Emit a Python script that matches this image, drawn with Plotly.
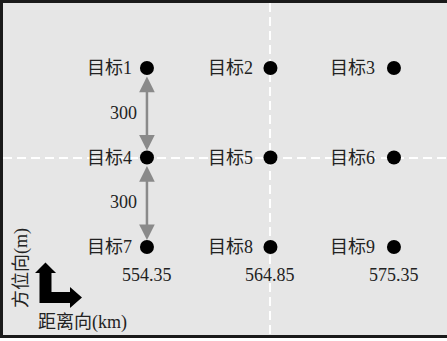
import plotly.graph_objects as go

# Target grid: range positions (km) and azimuth offsets (m)
range_km = [554.35, 564.85, 575.35]
azimuth_m = [300, 0, -300]
range_labels = ["554.35", "564.85", "575.35"]
target_names = [["目标1", "目标2", "目标3"],
                ["目标4", "目标5", "目标6"],
                ["目标7", "目标8", "目标9"]]
spacing_labels = ["300", "300"]

W, H = 447, 341
ML, MR, MT, MB = 3, 0, 3, 6
PW, PH = W - ML - MR, H - MT - MB

FONT = "Liberation Serif, Noto Sans CJK SC, serif"
TXT = "#222222"


def px(x, y):
    """Pixel position -> paper coordinates."""
    return (x - ML) / PW, (H - MB - y) / PH


xs, ys = [], []
for r, yv in enumerate(azimuth_m):
    for c, xv in enumerate(range_km):
        xs.append(xv)
        ys.append(yv)

fig = go.Figure()
fig.add_trace(go.Scatter(
    x=xs, y=ys, mode="markers",
    marker=dict(size=14, color="black"),
    hoverinfo="skip", showlegend=False,
))

ann = []
# target names to the left of each point
for r, yv in enumerate(azimuth_m):
    for c, xv in enumerate(range_km):
        ann.append(dict(x=xv, y=yv, xref="x", yref="y", text=target_names[r][c],
                        showarrow=False, xanchor="right", yanchor="middle",
                        xshift=-13 - 2 * c, font=dict(family=FONT, size=18, color=TXT)))

# range values under the bottom row
for xv, lab in zip(range_km, range_labels):
    ann.append(dict(x=xv, y=azimuth_m[-1], xref="x", yref="y", text=lab,
                    showarrow=False, xanchor="center", yanchor="middle",
                    yshift=-28, font=dict(family=FONT, size=18, color=TXT)))

# double-headed spacing arrows along the first column
for i, lab in enumerate(spacing_labels):
    y0, y1 = azimuth_m[i], azimuth_m[i + 1]
    ann.append(dict(x=range_km[0], y=y1, ax=range_km[0], ay=y0,
                    xref="x", yref="y", axref="x", ayref="y", text="",
                    showarrow=True, arrowside="end+start",
                    arrowhead=2, startarrowhead=2,
                    arrowsize=1.25, startarrowsize=1.25, arrowwidth=2.5,
                    arrowcolor="#8a8a8a", standoff=7, startstandoff=7))
    ann.append(dict(x=range_km[0], y=(y0 + y1) / 2, xref="x", yref="y", text=lab,
                    showarrow=False, xanchor="right", yanchor="middle",
                    xshift=-8, font=dict(family=FONT, size=18, color=TXT)))

# axis direction labels
ax_x, ax_y = px(21, 268)
ann.append(dict(x=ax_x, y=ax_y, xref="paper", yref="paper", text="方位向(m)",
                showarrow=False, textangle=-90, xanchor="center", yanchor="middle",
                font=dict(family=FONT, size=18, color=TXT)))
rx, ry = px(82, 322)
ann.append(dict(x=rx, y=ry, xref="paper", yref="paper", text="距离向(km)",
                showarrow=False, xanchor="center", yanchor="middle",
                font=dict(family=FONT, size=18, color=TXT)))

# L-shaped direction glyph (azimuth up, range right)
pts = [(45.5, 262.5), (56, 273), (51.5, 273), (51.5, 292), (70, 292), (70, 287),
       (82, 297.5), (70, 308), (70, 303), (39.5, 303), (39.5, 273), (35, 273)]
path = "M " + " L ".join("%.4f,%.4f" % px(x, y) for x, y in pts) + " Z"

fig.update_layout(
    width=W, height=H,
    margin=dict(l=ML, r=MR, t=MT, b=MB, pad=0),
    paper_bgcolor="white", plot_bgcolor="#e6e6e6",
    annotations=ann,
    shapes=[dict(type="path", path=path, xref="paper", yref="paper",
                 fillcolor="black", line=dict(width=0))],
    xaxis=dict(range=[542.11, 579.86], tickvals=[range_km[1]],
               showticklabels=False, ticks="", zeroline=False,
               showgrid=True, gridcolor="white", gridwidth=2, griddash="9px,5px",
               showline=True, linecolor="#1a1a1a", linewidth=3, mirror=True),
    yaxis=dict(range=[-595, 518], tickvals=[azimuth_m[1]],
               showticklabels=False, ticks="", zeroline=False,
               showgrid=True, gridcolor="white", gridwidth=2, griddash="9px,5px",
               showline=True, linecolor="#1a1a1a", linewidth=3, mirror=False),
)

fig.write_html("out.html")
